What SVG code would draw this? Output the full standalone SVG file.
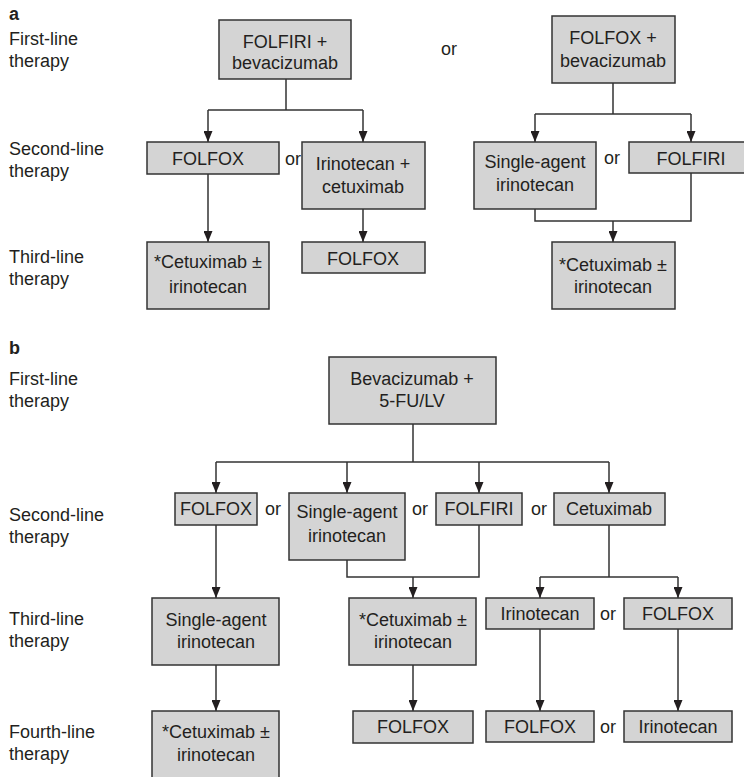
<svg xmlns="http://www.w3.org/2000/svg" width="744" height="777" viewBox="0 0 744 777">
<defs>
<style>
text{font-family:"Liberation Sans",Arial,sans-serif;font-size:18px;fill:#231f20}
.c{text-anchor:middle}
.h{font-weight:bold}
.box{fill:#d4d4d4;stroke:#333;stroke-width:1.5}
.ln{fill:none;stroke:#333;stroke-width:1.5}
</style>
<marker id="ah" viewBox="0 0 11 9" refX="11" refY="4.5" markerWidth="11" markerHeight="9" markerUnits="userSpaceOnUse" orient="auto">
<path d="M0,0 L11,4.5 L0,9 z" fill="#231f20"/>
</marker>
</defs>
<rect width="744" height="777" fill="#fff"/>

<g id="labels">
<text x="9" y="20" class="h">a</text>
<text x="9" y="45">First-line</text>
<text x="9" y="67">therapy</text>
<text x="9" y="155">Second-line</text>
<text x="9" y="177">therapy</text>
<text x="9" y="263">Third-line</text>
<text x="9" y="285">therapy</text>
<text x="9" y="354" class="h">b</text>
<text x="9" y="385">First-line</text>
<text x="9" y="407">therapy</text>
<text x="9" y="521">Second-line</text>
<text x="9" y="543">therapy</text>
<text x="9" y="625">Third-line</text>
<text x="9" y="647">therapy</text>
<text x="9" y="738">Fourth-line</text>
<text x="9" y="760">therapy</text>
<text x="449" y="55" class="c">or</text>
<text x="293" y="165" class="c">or</text>
<text x="612" y="164" class="c">or</text>
<text x="273" y="515" class="c">or</text>
<text x="420" y="515" class="c">or</text>
<text x="539" y="515" class="c">or</text>
<text x="608" y="620" class="c">or</text>
<text x="608" y="733" class="c">or</text>
</g>

<g id="connectors">
<path class="ln" d="M286,79 V110 M208,110 H363"/>
<path class="ln" d="M208,110 V142" marker-end="url(#ah)"/>
<path class="ln" d="M363,110 V142" marker-end="url(#ah)"/>
<path class="ln" d="M208,174 V242" marker-end="url(#ah)"/>
<path class="ln" d="M363,209 V242" marker-end="url(#ah)"/>
<path class="ln" d="M613,83 V114 M535,114 H691"/>
<path class="ln" d="M535,114 V142" marker-end="url(#ah)"/>
<path class="ln" d="M691,114 V142" marker-end="url(#ah)"/>
<path class="ln" d="M535,209 V221 H691 V173"/>
<path class="ln" d="M613,221 V242" marker-end="url(#ah)"/>

<path class="ln" d="M413,424 V462 M216,462 H609"/>
<path class="ln" d="M216,462 V493" marker-end="url(#ah)"/>
<path class="ln" d="M347,462 V493" marker-end="url(#ah)"/>
<path class="ln" d="M479,462 V493" marker-end="url(#ah)"/>
<path class="ln" d="M609,462 V493" marker-end="url(#ah)"/>
<path class="ln" d="M216,525 V598" marker-end="url(#ah)"/>
<path class="ln" d="M347,560 V577 H479 V525"/>
<path class="ln" d="M413,577 V598" marker-end="url(#ah)"/>
<path class="ln" d="M609,525 V577 M540,577 H678"/>
<path class="ln" d="M540,577 V598" marker-end="url(#ah)"/>
<path class="ln" d="M678,577 V598" marker-end="url(#ah)"/>
<path class="ln" d="M216,665 V711" marker-end="url(#ah)"/>
<path class="ln" d="M413,665 V711" marker-end="url(#ah)"/>
<path class="ln" d="M540,629 V711" marker-end="url(#ah)"/>
<path class="ln" d="M678,629 V711" marker-end="url(#ah)"/>
</g>

<g id="a1"><rect class="box" x="219" y="20" width="132" height="59"/><text class="c" x="285" y="48">FOLFIRI +</text><text class="c" x="285" y="69">bevacizumab</text></g>
<g id="a2"><rect class="box" x="552" y="16" width="123" height="67"/><text class="c" x="613" y="44">FOLFOX +</text><text class="c" x="613" y="67">bevacizumab</text></g>
<g id="a3"><rect class="box" x="147" y="142" width="132" height="32"/><text class="c" x="208" y="165">FOLFOX</text></g>
<g id="a4"><rect class="box" x="302" y="142" width="123" height="67"/><text class="c" x="363" y="170">Irinotecan +</text><text class="c" x="363" y="193">cetuximab</text></g>
<g id="a5"><rect class="box" x="474" y="142" width="122" height="67"/><text class="c" x="535" y="168">Single-agent</text><text class="c" x="535" y="191">irinotecan</text></g>
<g id="a6"><rect class="box" x="629" y="142" width="124" height="31"/><text class="c" x="691" y="165">FOLFIRI</text></g>
<g id="a7"><rect class="box" x="147" y="242" width="122" height="67"/><text class="c" x="208" y="268">*Cetuximab ±</text><text class="c" x="208" y="293">irinotecan</text></g>
<g id="a8"><rect class="box" x="302" y="242" width="123" height="31"/><text class="c" x="363" y="265">FOLFOX</text></g>
<g id="a9"><rect class="box" x="552" y="242" width="123" height="67"/><text class="c" x="613" y="271">*Cetuximab ±</text><text class="c" x="613" y="293">irinotecan</text></g>

<g id="b1"><rect class="box" x="329" y="357" width="167" height="67"/><text class="c" x="412" y="385">Bevacizumab +</text><text class="c" x="412" y="407">5-FU/LV</text></g>
<g id="b2"><rect class="box" x="175" y="493" width="82" height="32"/><text class="c" x="216" y="515">FOLFOX</text></g>
<g id="b3"><rect class="box" x="289" y="493" width="116" height="67"/><text class="c" x="347" y="518">Single-agent</text><text class="c" x="347" y="542">irinotecan</text></g>
<g id="b4"><rect class="box" x="436" y="493" width="86" height="32"/><text class="c" x="479" y="515">FOLFIRI</text></g>
<g id="b5"><rect class="box" x="554" y="493" width="111" height="32"/><text class="c" x="609" y="515">Cetuximab</text></g>
<g id="b6"><rect class="box" x="152" y="598" width="127" height="67"/><text class="c" x="216" y="626">Single-agent</text><text class="c" x="216" y="648">irinotecan</text></g>
<g id="b7"><rect class="box" x="349" y="598" width="127" height="67"/><text class="c" x="413" y="626">*Cetuximab ±</text><text class="c" x="413" y="648">irinotecan</text></g>
<g id="b8"><rect class="box" x="486" y="598" width="108" height="31"/><text class="c" x="540" y="620">Irinotecan</text></g>
<g id="b9"><rect class="box" x="624" y="598" width="108" height="31"/><text class="c" x="678" y="620">FOLFOX</text></g>
<g id="b10"><rect class="box" x="152" y="711" width="127" height="67"/><text class="c" x="216" y="738">*Cetuximab ±</text><text class="c" x="216" y="761">irinotecan</text></g>
<g id="b11"><rect class="box" x="353" y="711" width="120" height="32"/><text class="c" x="413" y="733">FOLFOX</text></g>
<g id="b12"><rect class="box" x="486" y="711" width="108" height="31"/><text class="c" x="540" y="733">FOLFOX</text></g>
<g id="b13"><rect class="box" x="624" y="711" width="108" height="31"/><text class="c" x="678" y="733">Irinotecan</text></g>
</svg>
